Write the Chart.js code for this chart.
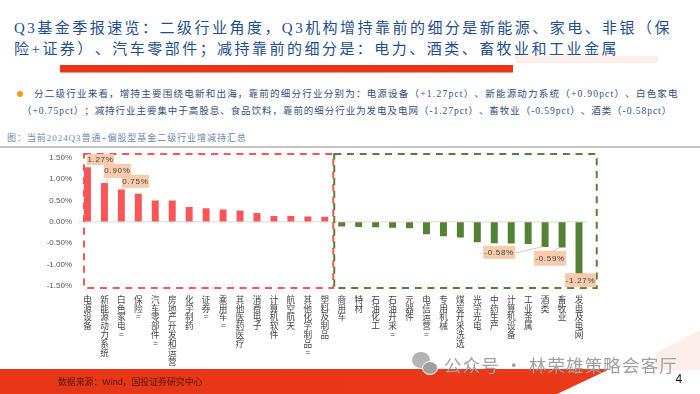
<!DOCTYPE html>
<html lang="zh"><head><meta charset="utf-8">
<script src="https://cdn.jsdelivr.net/npm/chart.js@4"></script>
<style>
html,body{margin:0;padding:0;background:#fff;width:700px;height:394px;overflow:hidden}
body{position:relative;font-family:"Liberation Serif","Noto Sans CJK SC",serif;text-spacing-trim:space-all;font-kerning:none}
.t{position:absolute;white-space:nowrap;line-height:1}
.title{color:#1f4e8f;font-size:15px;letter-spacing:2.47px;left:14px}
.body{color:#33507a;font-size:9.5px}
svg,canvas{position:absolute;left:0;top:0}
</style></head><body>
<svg width="700" height="394">
<rect x="60" y="65" width="453" height="7.5" fill="#ec3316"/>
<rect x="515" y="56" width="143" height="7" fill="#fdeeec"/>
<circle cx="20" cy="94" r="3" fill="#f79a1e"/>
<rect x="0" y="146.5" width="700" height="1" fill="#8a8a8a"/>
<polygon points="656,353 700,330 700,370 656,370" fill="#fdeeec"/>
<defs><linearGradient id="g" x1="0" x2="1"><stop offset="0" stop-color="#e63517"/><stop offset="1" stop-color="#ea3a1a"/></linearGradient></defs>
<polygon points="0,369 610,369 557,394 0,394" fill="url(#g)"/>
</svg>
<div class="t title" style="top:21px">Q3基金季报速览：二级行业角度，Q3机构增持靠前的细分是新能源、家电、非银（保</div>
<div class="t title" style="top:42px">险+证券）、汽车零部件；减持靠前的细分是：电力、酒类、畜牧业和工业金属</div>
<div class="t body" style="left:34px;top:90px;letter-spacing:1.23px">分二级行业来看，增持主要围绕电新和出海，靠前的细分行业分别为：电源设备（+1.27pct）、新能源动力系统（+0.90pct）、白色家电</div>
<div class="t body" style="left:22px;top:107px;letter-spacing:.96px">（+0.75pct）；减持行业主要集中于高股息、食品饮料，靠前的细分行业为发电及电网（-1.27pct）、畜牧业（-0.59pct）、酒类（-0.58pct）</div>
<div class="t" style="left:7px;top:134px;font-size:9px;color:#6b88ad;letter-spacing:.95px">图：当前2024Q3普通+偏股型基金二级行业增减持汇总</div>
<canvas id="c" width="700" height="394" style="width:700px;height:394px"></canvas>
<div class="t" style="left:58px;top:377.5px;font-size:8.9px;color:#4d1a10;font-family:'Liberation Sans','Noto Sans CJK SC',sans-serif">数据来源：Wind，国投证券研究中心</div>
<div class="t" style="left:675.5px;top:372.5px;font-size:12px;color:#111;font-family:'Liberation Sans',sans-serif">4</div>
<svg width="700" height="394" style="pointer-events:none">
<ellipse cx="421" cy="360" rx="9" ry="8" fill="#b4b4b4"/>
<ellipse cx="430" cy="368" rx="7.5" ry="6.5" fill="#a0a0a0" stroke="#fff" stroke-width="1"/>
</svg>
<div class="t" style="left:444px;top:356px;font-size:17.5px;color:#a0a0a0;letter-spacing:1.15px;font-family:'Noto Sans CJK SC',sans-serif">公众号 · 林荣雄策略会客厅</div>
<script>
const categories = ["电源设备","新能源动力系统","白色家电=","保险=","汽车零部件=","房地产开发和运营","化学制药","证券=","乘用车=","其他医药医疗","消费电子","计算机软件","航空航天","其他化学制品=","塑料及制品","商用车","特材","石油化工","石油开采=","元器件","电信运营=","专用机械","煤炭开采洗选","光学光电","中药生产","计算机设备","工业金属","酒类","畜牧业","发电及电网"];
const changes = [1.27,0.90,0.75,0.65,0.49,0.49,0.34,0.31,0.28,0.26,0.20,0.13,0.13,0.12,0.11,-0.10,-0.11,-0.12,-0.13,-0.14,-0.28,-0.33,-0.36,-0.47,-0.49,-0.50,-0.51,-0.58,-0.59,-1.27];
const yTicks = [-1.5,-1,-0.5,0,0.5,1,1.5];
const calledOut = [0,1,2,27,28,29];
const RED="#fb5557", GREEN="#548235";
const callouts = {
  0:{dx:13,dy:-8,w:27,h:11},
  1:{dx:13,dy:-12.5,w:27,h:14,lx:-9,ly:7,from:[0,0]},
  2:{dx:14,dy:-8.5,w:27,h:13,lx:-11,ly:6,from:[0,0]},
  27:{dx:-46,dy:5.7,w:32,h:13,lx:16,ly:0.5,from:[-2,0]},
  28:{dx:-12,dy:11.2,w:32,h:15,lx:3,ly:-7,from:[-2,0]},
  29:{dx:1.5,dy:4,w:31,h:14}
};
const overlay = {
  id:"overlay",
  beforeDatasetsDraw(ch){
    const {ctx,scales:{x,y}}=ch;
    const top=y.getPixelForValue(1.5)-3.7, bot=y.getPixelForValue(-1.5)+2;
    const mid=(x.getPixelForValue(14)+x.getPixelForValue(15))/2;
    const l=x.getPixelForValue(0)-3.5, r=x.getPixelForValue(29)+17.7;
    ctx.save();ctx.lineWidth=2;ctx.setLineDash([7,5.7]);
    ctx.strokeStyle=RED;ctx.strokeRect(l,top,mid-l,bot-top);
    ctx.strokeStyle=GREEN;ctx.strokeRect(mid+1,top,r-mid-1,bot-top);
    ctx.restore();
  },
  afterDatasetsDraw(ch){
    const {ctx,scales:{x,y}}=ch;
    ctx.save();
    calledOut.forEach(i=>{
      const c=callouts[i],bx=x.getPixelForValue(i),by=y.getPixelForValue(changes[i]);
      const cx=bx+c.dx,cy=by+c.dy;
      if(c.lx!==undefined){
        ctx.strokeStyle="#bdbdbd";ctx.lineWidth=.8;ctx.beginPath();
        ctx.moveTo(bx+c.from[0],by+c.from[1]);ctx.lineTo(cx+c.lx,cy+c.ly);ctx.stroke();
      }
      ctx.fillStyle="#f8cbad";ctx.fillRect(cx-c.w/2,cy-c.h/2,c.w,c.h);
      ctx.fillStyle="#444";ctx.font='8px "Liberation Sans",sans-serif';ctx.letterSpacing=".7px";
      ctx.textAlign="center";ctx.textBaseline="middle";
      ctx.fillText(changes[i].toFixed(2)+"%",cx,cy+.3);
    });
    ctx.restore();
  }
};
new Chart(document.getElementById("c"),{
  type:"bar",
  data:{labels:categories.map(s=>s.split("")),datasets:[{data:changes,
    backgroundColor:changes.map(v=>v>=0?RED:GREEN),barThickness:6.3,borderWidth:0}]},
  options:{responsive:false,animation:false,
    layout:{padding:{top:157.7,right:112.5,left:0,bottom:0}},
    plugins:{legend:{display:false},tooltip:{enabled:false}},
    scales:{
      x:{grid:{display:false},border:{display:false},
        afterFit(s){s.height=108;},
        ticks:{autoSkip:false,maxRotation:0,minRotation:0,padding:1,color:"#444",
          font:{family:'"Noto Sans CJK SC",sans-serif',size:8.6,lineHeight:1.03}}},
      y:{min:-1.5,max:1.5,afterFit(s){s.width=79;},
        afterBuildTicks(s){s.ticks=yTicks.map(v=>({value:v}));},
        border:{display:false},
        grid:{drawTicks:false,lineWidth:1.5,color:c=>c.tick&&c.tick.value===0?"#e6e6e6":"rgba(0,0,0,0)"},
        ticks:{padding:7,color:"#555",font:{family:'"Liberation Sans",sans-serif',size:8},
          callback:v=>v.toFixed(2)+"%"}}
    }},
  plugins:[overlay]
});
</script>
</body></html>
